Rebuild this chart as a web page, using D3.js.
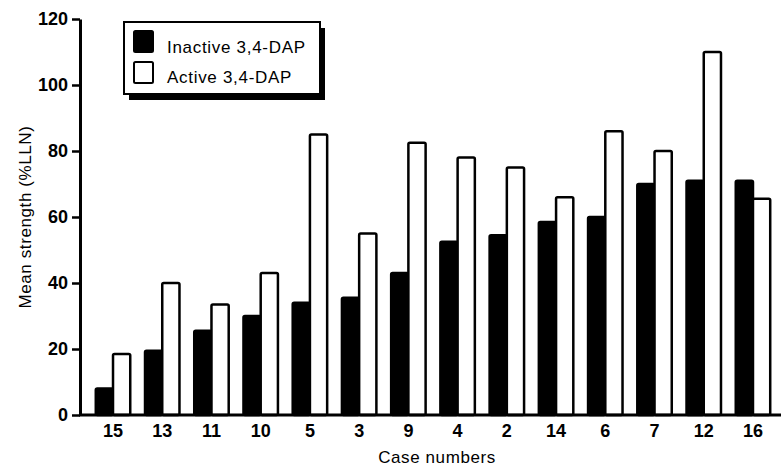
<!DOCTYPE html>
<html>
<head>
<meta charset="utf-8">
<script src="https://cdn.jsdelivr.net/npm/d3@7"></script>
<style>
  body { margin: 0; background: #fff; }
  text { font-family: "Liberation Sans", Arial, sans-serif; fill: #000; }
</style>
</head>
<body>
<svg id="chart"></svg>
<script>
// case numbers along x
var cases = ["15", "13", "11", "10", "5", "3", "9", "4", "2", "14", "6", "7", "12", "16"];
// mean strength (%LLN)
var inactive = [8, 19.5, 25.5, 30, 34, 35.5, 43, 52.5, 54.5, 58.5, 60, 70, 71, 71];
var active = [18.5, 40, 33.5, 43, 85, 55, 82.5, 78, 75, 66, 86, 80, 110, 65.5];
var yTicks = [0, 20, 40, 60, 80, 100, 120];
var seriesNames = ["Inactive 3,4-DAP", "Active 3,4-DAP"];

var width = 781, height = 468;
var svg = d3.select("#chart").attr("width", width).attr("height", height);

var yScale = d3.scaleLinear().domain([0, 120]).range([415, 19]);
var xScale = d3.scaleBand().domain(cases)
    .range([88.4, 777.6])
    .paddingInner(0.3)
    .paddingOuter(0.15);
var sub = d3.scaleBand().domain([0, 1]).range([0, xScale.bandwidth()]);

// bars
var groups = svg.selectAll("g.case").data(cases).enter().append("g")
    .attr("class", "case")
    .attr("transform", function(d) { return "translate(" + xScale(d) + ",0)"; });

groups.append("rect")
    .attr("x", sub(0))
    .attr("width", sub.bandwidth())
    .attr("y", function(d, i) { return yScale(inactive[i]); })
    .attr("height", function(d, i) { return yScale(0) - yScale(inactive[i]); })
    .attr("rx", 1.5)
    .style("fill", "#000").style("stroke", "#000").style("stroke-width", 2.5);

groups.append("rect")
    .attr("x", sub(1))
    .attr("width", sub.bandwidth())
    .attr("y", function(d, i) { return yScale(active[i]); })
    .attr("height", function(d, i) { return yScale(0) - yScale(active[i]); })
    .attr("rx", 1.5)
    .style("fill", "#fff").style("stroke", "#000").style("stroke-width", 2.5);

// y axis
var yAxis = d3.axisLeft(yScale).tickValues(yTicks).tickSize(8).tickPadding(4).tickSizeOuter(0);
var gy = svg.append("g").attr("transform", "translate(80,0)").call(yAxis);
gy.select(".domain").attr("stroke-width", 3);
gy.selectAll(".tick line").attr("stroke-width", 2.5);
gy.selectAll("text").style("font-size", "18px").style("font-weight", "bold");

// x axis
var xAxis = d3.axisBottom(xScale).tickSize(0).tickPadding(9);
var gx = svg.append("g").attr("transform", "translate(0,415)").call(xAxis);
gx.select(".domain").attr("d", "M79,0H781").attr("stroke-width", 3);
gx.selectAll("text").style("font-size", "18px").style("font-weight", "bold");

// axis titles
svg.append("text")
    .attr("transform", "translate(31,217) rotate(-90)")
    .attr("text-anchor", "middle")
    .style("font-size", "17px")
    .style("letter-spacing", "0.6px")
    .text("Mean strength (%LLN)");

svg.append("text")
    .attr("x", 437).attr("y", 463)
    .attr("text-anchor", "middle")
    .style("font-size", "17px")
    .style("letter-spacing", "0.6px")
    .text("Case numbers");

// legend
var legend = svg.append("g").attr("transform", "translate(124,22)");
legend.append("rect").attr("x", 5).attr("y", 6).attr("width", 196).attr("height", 72).style("fill", "#000");
legend.append("rect").attr("x", 0).attr("y", 0).attr("width", 196).attr("height", 72)
    .style("fill", "#fff").style("stroke", "#000").style("stroke-width", 2);
var fills = ["#000", "#fff"];
seriesNames.forEach(function(name, i) {
    legend.append("rect")
        .attr("x", 10).attr("y", 9 + i * 31)
        .attr("width", 19).attr("height", 21).attr("rx", 1.5)
        .style("fill", fills[i]).style("stroke", "#000").style("stroke-width", 2);
    legend.append("text")
        .attr("x", 43).attr("y", 31 + i * 30)
        .style("font-size", "17px")
        .style("letter-spacing", "0.7px")
        .text(name);
});
</script>
</body>
</html>
